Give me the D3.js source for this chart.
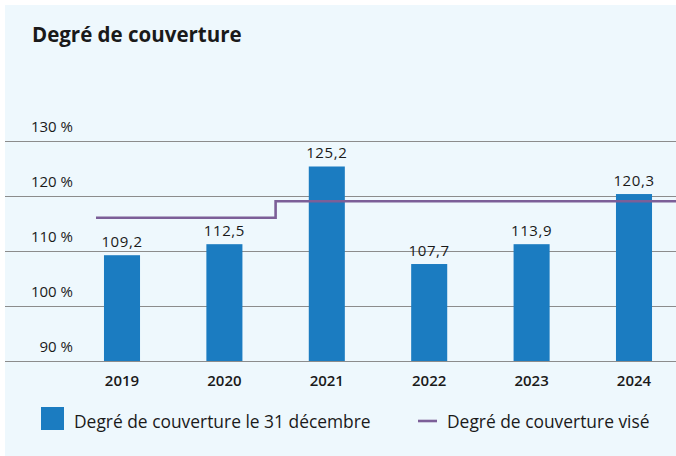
<!DOCTYPE html>
<html>
<head>
<meta charset="utf-8">
<script src="https://cdn.jsdelivr.net/npm/d3@7"></script>
<style>
  html, body { margin: 0; padding: 0; background: #fff; }
  svg { display: block; font-family: "Open Sans", "Noto Sans", sans-serif; }
</style>
</head>
<body>
<div id="vis"></div>
<script>
const years = ["2019", "2020", "2021", "2022", "2023", "2024"];
// bar heights as drawn in the picture
const bar_values = [109.2, 111.2, 125.3, 107.6, 111.2, 120.3];
// numbers printed above the bars
const bar_labels = ["109,2", "112,5", "125,2", "107,7", "113,9", "120,3"];
const target_values = [116, 116, 119, 119, 119, 119];
const y_ticks = [90, 100, 110, 120, 130];

const frame_width = 676;
const frame_height = 456;

const blue = "#1b7cc1";
const purple = "#7c5f98";
const ink = "#1a1a1a";

const svg = d3.select("#vis")
  .append("svg")
    .attr("width", frame_width)
    .attr("height", frame_height);

// light panel
svg.append("rect")
  .attr("x", 5).attr("y", 5)
  .attr("width", frame_width - 5)
  .attr("height", frame_height - 5)
  .attr("fill", "#eef8fd");

svg.append("text")
  .attr("x", 32).attr("y", 42)
  .attr("font-size", "20.5px")
  .attr("font-weight", "bold")
  .attr("fill", ink)
  .text("Degré de couverture");

const x_scale = d3.scaleBand()
  .domain(years)
  .range([70.8, 685.2])
  .paddingInner(0.648)
  .paddingOuter(0.324);

const y_scale = d3.scaleLinear()
  .domain([90, 130])
  .range([361, 140.6]);

// gridlines + tick labels
const grid = svg.append("g");
grid.selectAll("line")
  .data(y_ticks)
  .enter()
  .append("line")
    .attr("x1", 5)
    .attr("x2", frame_width)
    .attr("y1", d => Math.round(y_scale(d)) + 0.5)
    .attr("y2", d => Math.round(y_scale(d)) + 0.5)
    .attr("stroke", "#8c8c8c")
    .attr("stroke-width", 1);

grid.selectAll("text")
  .data(y_ticks)
  .enter()
  .append("text")
    .attr("x", 73)
    .attr("y", d => y_scale(d) - 9)
    .attr("text-anchor", "end")
    .attr("font-size", "15px")
    .attr("fill", ink)
    .text(d => d + " %");

// bars
svg.selectAll(".bar")
  .data(years)
  .enter()
  .append("rect")
    .attr("class", "bar")
    .attr("x", d => x_scale(d))
    .attr("width", x_scale.bandwidth())
    .attr("y", (d, i) => y_scale(bar_values[i]))
    .attr("height", (d, i) => y_scale(90) - y_scale(bar_values[i]))
    .attr("fill", blue);

svg.selectAll(".val")
  .data(years)
  .enter()
  .append("text")
    .attr("class", "val")
    .attr("x", d => x_scale(d) + x_scale.bandwidth() / 2)
    .attr("y", (d, i) => y_scale(bar_values[i]) - 8)
    .attr("text-anchor", "middle")
    .attr("font-size", "15px")
    .attr("letter-spacing", "0.6px")
    .attr("fill", ink)
    .text((d, i) => bar_labels[i]);

// x axis labels
svg.selectAll(".year")
  .data(years)
  .enter()
  .append("text")
    .attr("class", "year")
    .attr("x", d => x_scale(d) + x_scale.bandwidth() / 2)
    .attr("y", 386)
    .attr("text-anchor", "middle")
    .attr("font-size", "15px")
    .attr("font-weight", "600")
    .attr("fill", ink)
    .text(d => d);

// target step line
const step = x_scale.step();
const target_pts = [];
years.forEach((d, i) => {
  const c = x_scale(d) + x_scale.bandwidth() / 2;
  const x0 = i === 0 ? c - 26 : c - step / 2;
  target_pts.push([x0, target_values[i]]);
});
target_pts.push([frame_width, target_values[target_values.length - 1]]);

const line = d3.line()
  .x(d => d[0])
  .y(d => y_scale(d[1]))
  .curve(d3.curveStepAfter);

svg.append("path")
  .attr("d", line(target_pts))
  .attr("fill", "none")
  .attr("stroke", purple)
  .attr("stroke-width", 2.6);

// legend
svg.append("rect")
  .attr("x", 41).attr("y", 407)
  .attr("width", 23).attr("height", 23)
  .attr("fill", blue);
svg.append("text")
  .attr("x", 74).attr("y", 427.5)
  .attr("font-size", "17.4px")
  .attr("fill", ink)
  .text("Degré de couverture le 31 décembre");

svg.append("line")
  .attr("x1", 418).attr("x2", 437)
  .attr("y1", 421).attr("y2", 421)
  .attr("stroke", purple)
  .attr("stroke-width", 2.6);
svg.append("text")
  .attr("x", 447).attr("y", 427.5)
  .attr("font-size", "17.4px")
  .attr("fill", ink)
  .text("Degré de couverture visé");
</script>
</body>
</html>
